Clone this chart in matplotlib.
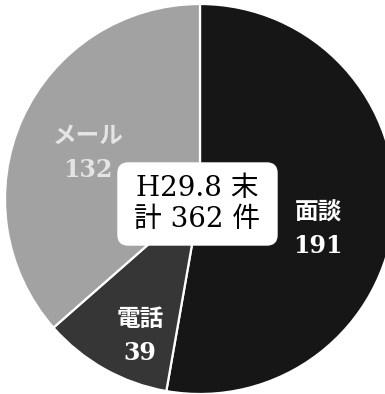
import matplotlib
matplotlib.use("Agg")
from matplotlib import pyplot as plt
from matplotlib.patches import FancyBboxPatch

# consultations by channel, end of Aug H29
categories = ["面談", "電話", "メール"]
counts = [191, 39, 132]
colors = ["#161616", "#363636", "#a2a2a2"]
label_colors = ["white", "white", "#e4e4e4"]
title_lines = ["H29.8 末", "計 362 件"]

fonts = ["DejaVu Serif", "Noto Sans CJK JP"]

fig = plt.figure(figsize=(3.85, 3.94), dpi=100)
ax = fig.add_axes([0, 0, 1, 1])

# axes in pixel units, y up
wedges, _ = ax.pie(counts, colors=colors, startangle=90, counterclock=False,
                   center=(200, 195), radius=195,
                   wedgeprops=dict(edgecolor="white", linewidth=1.6))
ax.set_xlim(0, 385)
ax.set_ylim(0, 394)
ax.set_aspect("equal")
ax.axis("off")

# (x, name y, number y)
label_pos = [(318, 181, 148), (140, 75, 41), (88, 258, 224)]
for name, n, (x, y1, y2), c in zip(categories, counts, label_pos, label_colors):
    ax.text(x, y1, name, ha="center", va="center", color=c,
            fontsize=17, fontweight="bold", family=["Noto Sans CJK JP"])
    ax.text(x, y2, str(n), ha="center", va="center", color=c,
            fontsize=17, fontweight="bold", family=fonts)

box = FancyBboxPatch((118, 149), 159, 82,
                     boxstyle="round,pad=0,rounding_size=10",
                     facecolor="white", edgecolor="white", zorder=3)
ax.add_patch(box)
ax.text(197, 206, title_lines[0], ha="center", va="center", fontsize=20,
        family=fonts, zorder=4)
ax.text(197, 175, title_lines[1], ha="center", va="center", fontsize=20,
        family=fonts, zorder=4)

fig.savefig("out.png", dpi=100)
